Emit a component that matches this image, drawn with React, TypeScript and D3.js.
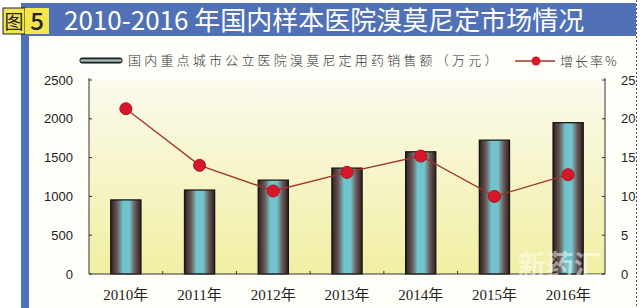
import React from "react";
import * as d3 from "d3";

const years = ["2010年", "2011年", "2012年", "2013年", "2014年", "2015年", "2016年"];
const sales = [955, 1082, 1210, 1365, 1575, 1725, 1950];
const growth = [21.3, 14.0, 10.7, 13.1, 15.2, 10.0, 12.8];
const leftTicks = [0, 500, 1000, 1500, 2000, 2500];
const rightTicks = [0, 5, 10, 15, 20, 25];
const title = "2010-2016 年国内样本医院溴莫尼定市场情况";
const legendBar = "国内重点城市公立医院溴莫尼定用药销售额（万元）";
const legendLine = "增长率%";

export default function App() {
  const W = 640, H = 308;
  const left = 89, right = 605, top = 80, bottom = 274;
  const x = d3.scaleBand().domain(years).range([left, right]).paddingInner(0.59).paddingOuter(0.295);
  const yL = d3.scaleLinear().domain([0, 2500]).range([bottom, top]);
  const yR = d3.scaleLinear().domain([0, 25]).range([bottom, top]);
  const line = d3.line<number>().x((_, i) => x(years[i])! + x.bandwidth() / 2).y(d => yR(d));
  const step = x.step();
  const sans = "'Liberation Sans', Arial, 'Noto Sans CJK SC', sans-serif";
  const cjk = "'Noto Sans CJK SC', sans-serif";
  const serif = "'Liberation Serif', 'DejaVu Serif', 'Noto Sans CJK SC', serif";
  return (
    <svg width={W} height={H} style={{ position: "absolute", left: 0, top: 0, display: "block" }}>
      <defs>
        <linearGradient id="bg" x1="0" y1="0" x2="0" y2="1">
          <stop offset="0" stopColor="#fbfaee" />
          <stop offset="1" stopColor="#f1efa2" />
        </linearGradient>
        <linearGradient id="bar" x1="0" y1="0" x2="1" y2="0">
          <stop offset="0" stopColor="#2e1e1e" />
          <stop offset="0.22" stopColor="#6a5a5a" />
          <stop offset="0.4" stopColor="#72c4cc" />
          <stop offset="0.62" stopColor="#72c4cc" />
          <stop offset="0.8" stopColor="#6a5a5a" />
          <stop offset="1" stopColor="#2e1e1e" />
        </linearGradient>
        <linearGradient id="legbar" x1="0" y1="0" x2="0" y2="1">
          <stop offset="0" stopColor="#222" />
          <stop offset="0.5" stopColor="#a8c8c4" />
          <stop offset="1" stopColor="#222" />
        </linearGradient>
      </defs>
      <rect x={0} y={0} width={W} height={H} fill="#ffffff" />
      <rect x={30} y={37} width={605} height={H - 37} fill="#fefef8" />
      <rect x={left} y={top} width={right - left} height={bottom - top} fill="url(#bg)" />
      {/* title bar */}
      <rect x={21} y={3} width={615} height={33} fill="#5071b6" />
      <rect x={21} y={36} width={8} height={H - 36} fill="#5071b6" />
      <rect x={3} y={8} width={22} height={26} fill="#f3e64a" stroke="#222" strokeWidth={1} />
      <rect x={25} y={8} width={24} height={26} fill="#f3e64a" />
      <text x={14} y={29} textAnchor="middle" fontFamily={cjk} fontSize={19} fill="#222">图</text>
      <text x={37} y={30} textAnchor="middle" fontFamily={cjk} fontSize={24} fontWeight={500} fill="#222">5</text>
      <text x={64} y={30} fontFamily={cjk} fontSize={26} fill="#ffffff">{title}</text>
      {/* dotted right border */}
      <line x1={636.5} y1={0} x2={636.5} y2={H} stroke="#555" strokeDasharray="2,2" strokeWidth={1} />
      {/* bars */}
      {sales.map((v, i) => (
        <rect key={i} x={x(years[i])!} y={yL(v)} width={x.bandwidth()} height={bottom - yL(v)}
          fill="url(#bar)" stroke="#111" strokeWidth={1.2} />
      ))}
      {/* axes */}
      <line x1={left} y1={top - 2} x2={left} y2={bottom} stroke="#333" strokeWidth={1} />
      <line x1={right} y1={top - 2} x2={right} y2={bottom} stroke="#333" strokeWidth={1} />
      <line x1={left} y1={bottom} x2={right} y2={bottom} stroke="#333" strokeWidth={1} />
      {leftTicks.map(t => (
        <g key={t}>
          <line x1={left} x2={left + 3} y1={yL(t)} y2={yL(t)} stroke="#333" />
          <text x={73} y={yL(t) + 4.5} textAnchor="end" fontFamily={sans} fontSize={13} fill="#222">{t}</text>
        </g>
      ))}
      {rightTicks.map(t => (
        <g key={t}>
          <line x1={right - 3} x2={right} y1={yR(t)} y2={yR(t)} stroke="#333" />
          <text x={621} y={yR(t) + 4.5} textAnchor="start" fontFamily={sans} fontSize={13} fill="#222">{t}</text>
        </g>
      ))}
      {years.map((_, i) => i > 0 ? (
        <line key={i} x1={left + step * i} x2={left + step * i} y1={bottom} y2={bottom - 3} stroke="#333" />
      ) : null)}
      {/* watermark */}
      <text x={560} y={276} textAnchor="middle" fontFamily={cjk} fontSize={28} fontWeight={700} fill="#ffffff" opacity={0.5}>新药汇</text>
      {years.map(y => (
        <text key={y} x={x(y)! + x.bandwidth() / 2} y={300} textAnchor="middle" fontFamily={serif} fontSize={15} fill="#222">{y}</text>
      ))}
      {/* line */}
      <path d={line(growth)!} fill="none" stroke="#a0342c" strokeWidth={1.3} />
      {growth.map((v, i) => (
        <circle key={i} cx={x(years[i])! + x.bandwidth() / 2} cy={yR(v)} r={6} fill="#d8172a" stroke="#b01020" strokeWidth={1} />
      ))}
      {/* legend */}
      <rect x={80} y={58} width={42} height={5} rx={2} fill="url(#legbar)" stroke="#111" strokeWidth={1} />
      <text x={128} y={65} fontFamily={cjk} fontSize={13} fontWeight={300} fill="#333" letterSpacing={3.2}>{legendBar}</text>
      <line x1={515} x2={555} y1={61} y2={61} stroke="#a0342c" strokeWidth={1.3} />
      <circle cx={536} cy={61} r={4.5} fill="#d8172a" />
      <text x={560} y={66} fontFamily={cjk} fontSize={13} fontWeight={300} fill="#333" letterSpacing={2}>{legendLine}</text>
    </svg>
  );
}
